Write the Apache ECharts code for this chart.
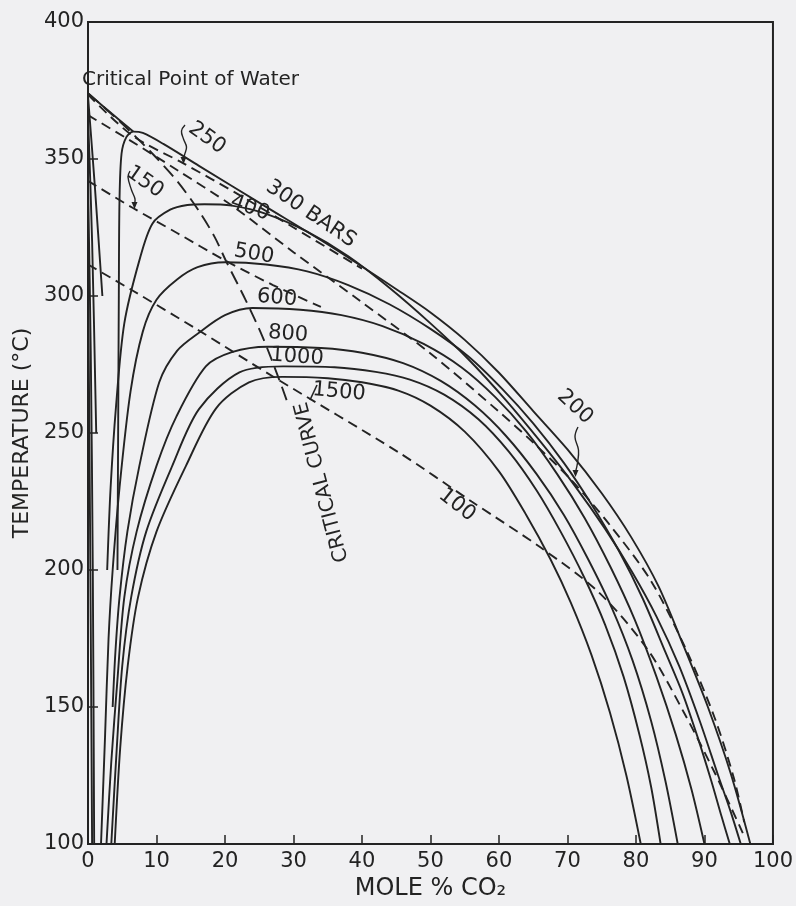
<!DOCTYPE html>
<html>
<head>
<meta charset="utf-8">
<script src="https://cdn.jsdelivr.net/npm/echarts@6/dist/echarts.min.js"></script>
<style>
  html, body { margin: 0; padding: 0; background: #f0f0f2; }
  #chart { width: 796px; height: 906px; }
</style>
</head>
<body>
<div id="chart"></div>
<script>
// H2O-CO2 two-phase boundaries: mole % CO2 against temperature (°C)
const xTicks = [0, 10, 20, 30, 40, 50, 60, 70, 80, 90, 100];
const yTicks = [100, 150, 200, 250, 300, 350, 400];

// solid isobars: liquid branch (bottom -> top) then vapour branch (top -> bottom)
const bar300Top = [[0, 374], [3.5, 366.5], [6.6, 360]];
const bar300 = [[4.3, 200], [4.4, 250], [4.5, 300], [4.6, 335], [4.9, 352], [5.6, 358], [6.6, 360], [8, 359.5], [11, 355.5], [16.2, 347.5], [25.7, 333], [35.2, 318.5], [45.3, 302], [50, 294], [55, 284], [60, 272], [65, 258], [70, 244], [75, 228], [79.3, 212], [83.3, 194], [87, 172], [90.5, 150], [93.8, 126], [96.7, 100]];
const bar400 = [[2.8, 200], [3.3, 230], [4.1, 260], [5.3, 290], [7.5, 313], [9.4, 326.4], [12, 331.5], [14.5, 333.2], [17, 333.5], [21, 333], [26, 330], [32, 323.5], [38, 314.5], [44, 303], [50, 290], [55.5, 277], [61, 262], [66, 247], [71, 231], [75.5, 215], [79.5, 199], [83, 183], [86.3, 165], [89.3, 145], [92, 125], [93.8, 112], [95.3, 100]];
const bar500 = [[1.9, 100], [2.5, 140], [3.0, 175], [3.6, 200], [4.6, 230], [6.2, 265], [8, 287], [10, 298.6], [13, 306], [16, 310.5], [20, 312.3], [26, 311.5], [32, 309], [38, 304], [44, 297], [50, 288], [55.5, 278], [60.5, 266], [65, 253.5], [69.5, 239], [73.5, 224], [77.5, 207], [81, 189.5], [84.3, 170], [86.8, 155], [89, 139], [91, 123], [92.5, 110], [93.7, 100]];
const bar600 = [[3.6, 150], [4.0, 170], [4.6, 190], [5.75, 214], [7.5, 238], [10.4, 268.5], [13, 280], [16.2, 286.6], [20, 293], [24, 295.6], [31, 295], [37, 293], [43, 289], [49, 282.5], [54.5, 274], [59.5, 263], [64, 250.5], [68.5, 235], [72.5, 219], [76.3, 201], [79.8, 182], [83, 161], [85.8, 140], [88.1, 120], [90, 100]];
const bar800 = [[2.7, 100], [3.4, 130], [4.3, 160], [5.3, 190], [7.1, 214], [10, 238], [12.9, 256], [17.2, 274.3], [21, 279.5], [26.2, 281.5], [34, 281], [40, 279.3], [46, 275.5], [51.5, 269], [56.5, 260], [61, 249], [65.5, 235], [69.5, 220], [73, 204], [76.5, 186], [79.5, 167], [82.2, 145], [84.3, 123], [86.1, 100]];
const bar1000 = [[3.4, 100], [4.2, 135], [5.0, 165], [6.3, 190], [8.5, 214], [12.3, 238], [16.2, 258.7], [22.1, 272.1], [28.5, 274.3], [36, 274], [42, 272.3], [47, 269.5], [52, 264], [57, 255], [61.5, 243], [65.5, 229], [69, 214], [72.5, 197], [75.5, 180], [78.2, 161], [80.5, 140], [82.2, 121], [83.6, 100]];
const bar1500 = [[3.9, 100], [4.7, 135], [5.8, 165], [7.3, 190], [10, 214], [14.3, 238], [18.7, 259], [23.5, 268.5], [28.4, 270.5], [35, 270], [40, 268.5], [45.3, 265.5], [50, 260], [55, 250.5], [60, 236], [64, 220], [67.5, 204], [70.5, 188], [73.5, 169], [76.2, 148], [78.6, 125], [80.7, 100]];

// liquid-side lines near pure water
const liq100 = [[0, 311], [0.2, 250], [0.4, 180], [0.6, 100]];
const liq150 = [[0, 342], [0.4, 280], [0.7, 200], [0.9, 100]];
const liq200 = [[0, 366], [0.6, 320], [1.2, 250]];
const liq250 = [[0, 373], [1.0, 340], [2.1, 300]];

// dashed vapour branches of low pressure isobars
const vap100 = [[0, 311.5], [6.5, 302], [15.8, 288], [27.4, 270], [45.3, 243], [56, 225], [66.2, 208], [74.5, 192], [81.7, 171], [87, 148], [91.5, 126], [95.6, 104]];
const vap150 = [[0, 342], [6.5, 332.2], [13, 323], [20, 313], [27, 304], [34, 296]];
const vap200 = [[0, 366], [6, 357], [13, 346], [21, 333], [30, 316], [39.5, 298.6], [50, 279], [59.9, 258], [65, 246.5], [70.5, 233], [76, 217], [82.2, 196], [87.5, 170], [91.5, 146], [94.3, 124], [95.8, 108]];
const vap250 = [[0, 373.5], [6.5, 358.5], [13.8, 348.6], [22, 337], [30, 325], [40, 310]];

// critical curve
const crit = [[0, 374], [4.5, 364], [9, 353], [13, 342], [16.2, 331], [18.5, 321.5], [20.2, 312.5], [23, 298.6], [25.5, 285], [27.9, 269.6], [29, 262]];

const ink = '#232323';
const lab = 'DejaVu Sans';

function solid(name, data) {
  return { name: name, type: 'line', data: data, showSymbol: false, smooth: 0.3, silent: true,
    lineStyle: { color: ink, width: 1.9 }, z: 3 };
}
function dashed(name, data, dash) {
  return { name: name, type: 'line', data: data, showSymbol: false, smooth: 0.3, silent: true,
    lineStyle: { color: ink, width: 1.9, type: dash }, z: 3 };
}

let chart = echarts.init(document.getElementById('chart'));

// text notes on the plot (pixel positions)
const notes = [
  { text: 'Critical Point of Water', x: 82, y: 80, rot: 0, align: 'left', font: '20px "DejaVu Sans"' },
  { text: '300 BARS', x: 311, y: 214, rot: -34 },
  { text: '250', x: 207, y: 138, rot: -36 },
  { text: '150', x: 145, y: 182, rot: -35 },
  { text: '400', x: 250, y: 208, rot: -20 },
  { text: '500', x: 254, y: 254, rot: -10 },
  { text: '600', x: 277, y: 298, rot: -5 },
  { text: '800', x: 288, y: 334, rot: -4 },
  { text: '1000', x: 297, y: 357, rot: -4 },
  { text: '1500', x: 339, y: 392, rot: -5 },
  { text: '200', x: 575, y: 407, rot: -43 },
  { text: '100', x: 457, y: 505, rot: -38 },
  { text: 'CRITICAL CURVE', x: 322, y: 482, rot: 104.6, font: '20px "DejaVu Sans"' }
];
const leaders = [
  [[185, 125], [181.5, 131], [183.5, 139], [186.5, 147], [184.5, 155], [183.5, 159]],
  [[130, 171], [128, 177], [131.5, 190], [135, 199], [134.5, 204]],
  [[578, 427], [575, 437], [578.5, 450], [577.5, 463], [575.5, 472]]
];

let graphics = [];
notes.forEach(n => {
  graphics.push({
    type: 'text', x: n.x, y: n.y, rotation: n.rot * Math.PI / 180, z: 10,
    style: { text: n.text, font: n.font || '21px "DejaVu Sans"', fill: ink,
      align: n.align || 'center', verticalAlign: 'middle' }
  });
});
leaders.forEach(p => {
  graphics.push({ type: 'polyline', shape: { points: p, smooth: 0.4 }, z: 10,
    style: { stroke: ink, lineWidth: 1.4, fill: null } });
  let t = p[p.length - 1];
  graphics.push({ type: 'polygon', z: 10,
    shape: { points: [[t[0] - 3, t[1] - 2], [t[0] + 3, t[1] - 2], [t[0], t[1] + 5]] },
    style: { fill: ink } });
});
graphics.push({ type: 'line', z: 10, shape: { x1: 310, y1: 400, x2: 317, y2: 385 },
  style: { stroke: ink, lineWidth: 1.6 } });

let option = {
  backgroundColor: '#f0f0f2',
  animation: false,
  grid: { left: 88, right: 20, top: 22, bottom: 58, show: true, borderColor: ink, borderWidth: 2,
    backgroundColor: 'transparent' },
  xAxis: {
    type: 'value', min: xTicks[0], max: xTicks[xTicks.length - 1], interval: xTicks[1] - xTicks[0],
    name: 'MOLE % CO₂', nameLocation: 'middle', nameGap: 33,
    nameTextStyle: { fontFamily: lab, fontSize: 24, color: ink },
    axisLine: { show: true, lineStyle: { color: ink, width: 2 } },
    axisTick: { show: true, inside: true, length: 9, lineStyle: { color: ink, width: 1.5 } },
    axisLabel: { fontFamily: lab, fontSize: 21, color: ink, margin: 7 },
    splitLine: { show: false }
  },
  yAxis: {
    type: 'value', min: yTicks[0], max: yTicks[yTicks.length - 1], interval: yTicks[1] - yTicks[0],
    name: 'TEMPERATURE (°C)', nameLocation: 'middle', nameGap: 52,
    nameTextStyle: { fontFamily: lab, fontSize: 22, color: ink },
    axisLine: { show: true, lineStyle: { color: ink, width: 2 } },
    axisTick: { show: true, inside: true, length: 10, lineStyle: { color: ink, width: 1.5 } },
    axisLabel: { fontFamily: lab, fontSize: 21, color: ink, margin: 4 },
    splitLine: { show: false }
  },
  graphic: graphics,
  series: [
    solid('300 bars', bar300),
    solid('300 bars upper', bar300Top),
    solid('400 bars', bar400),
    solid('500 bars', bar500),
    solid('600 bars', bar600),
    solid('800 bars', bar800),
    solid('1000 bars', bar1000),
    solid('1500 bars', bar1500),
    solid('100 bars liquid', liq100),
    solid('150 bars liquid', liq150),
    solid('200 bars liquid', liq200),
    solid('250 bars liquid', liq250),
    dashed('100 bars', vap100, [10, 6]),
    dashed('150 bars', vap150, [10, 6]),
    dashed('200 bars', vap200, [10, 6]),
    dashed('250 bars', vap250, [10, 6]),
    dashed('critical curve', crit, [14, 7])
  ]
};

chart.setOption(option);
</script>
</body>
</html>
